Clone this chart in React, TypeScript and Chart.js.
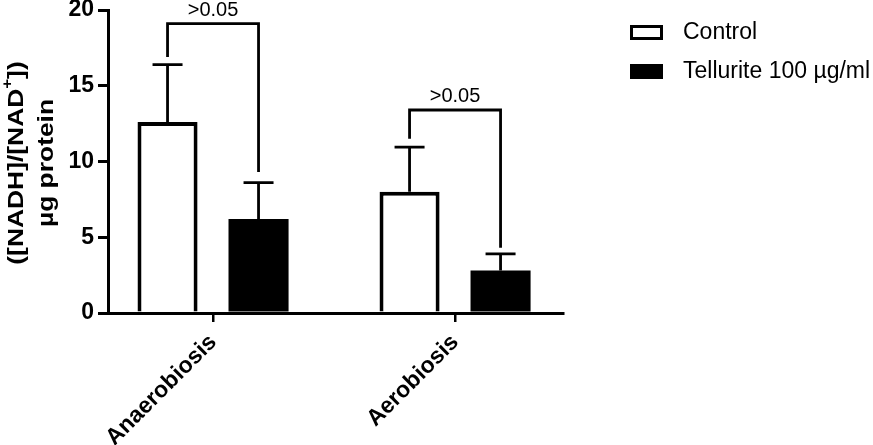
import { useEffect, useRef } from "react";
import { Chart, registerables } from "chart.js";

Chart.register(...registerables);

// ---- data ----
const categories = ["Anaerobiosis", "Aerobiosis"];
const seriesNames = ["Control", "Tellurite 100 µg/ml"];
const controlMeans = [12.6, 8.0];
const controlErrors = [3.8, 2.95];
const telluriteMeans = [6.2, 2.8];
const telluriteErrors = [2.4, 1.1];
const yTicks = [0, 5, 10, 15, 20];
const bracketTop = [19.1, 13.4];
const bracketLeftEnd = [16.9, 11.5];
const bracketRightEnd = [9.3, 4.3];
const bracketLabels = [">0.05", ">0.05"];
const yTitleLine1 = ["([NADH]/[NAD", "+", "])"];
const yTitleLine2 = "µg protein";

const FONT = "'Liberation Sans', Arial, Helvetica, sans-serif";

const overlay = {
  id: "overlay",
  afterDatasetsDraw(chart: any) {
    const ctx: CanvasRenderingContext2D = chart.ctx;
    const y = chart.scales.y;
    const means = [controlMeans, telluriteMeans];
    const errs = [controlErrors, telluriteErrors];
    const metas = [chart.getDatasetMeta(0), chart.getDatasetMeta(1)];
    ctx.save();
    ctx.strokeStyle = "#000";
    ctx.fillStyle = "#000";
    ctx.lineCap = "butt";
    ctx.lineJoin = "miter";
    // error bars (upper only)
    ctx.lineWidth = 2.8;
    for (let d = 0; d < 2; d++) {
      metas[d].data.forEach((bar: any, i: number) => {
        const x = bar.x;
        const top = y.getPixelForValue(means[d][i]);
        const cap = y.getPixelForValue(means[d][i] + errs[d][i]);
        ctx.beginPath();
        ctx.moveTo(x, top);
        ctx.lineTo(x, cap);
        ctx.moveTo(x - 15, cap);
        ctx.lineTo(x + 15, cap);
        ctx.stroke();
      });
    }
    // significance brackets
    ctx.font = `20px ${FONT}`;
    ctx.textAlign = "center";
    ctx.textBaseline = "alphabetic";
    for (let i = 0; i < categories.length; i++) {
      const xl = metas[0].data[i].x;
      const xr = metas[1].data[i].x;
      const yt = y.getPixelForValue(bracketTop[i]);
      ctx.beginPath();
      ctx.moveTo(xl, y.getPixelForValue(bracketLeftEnd[i]));
      ctx.lineTo(xl, yt);
      ctx.lineTo(xr, yt);
      ctx.lineTo(xr, y.getPixelForValue(bracketRightEnd[i]));
      ctx.stroke();
      ctx.fillText(bracketLabels[i], (xl + xr) / 2, yt - 8);
    }
    // legend
    ctx.lineWidth = 3;
    ctx.strokeRect(631.5, 26.5, 30, 12);
    ctx.fillRect(630, 64, 33, 15);
    ctx.font = `23px ${FONT}`;
    ctx.textAlign = "left";
    ctx.textBaseline = "middle";
    ctx.fillText(seriesNames[0], 683, 33);
    ctx.fillText(seriesNames[1], 683, 72);
    // y axis title
    const fMain = `bold 22px ${FONT}`;
    const fSup = `bold 14px ${FONT}`;
    ctx.save();
    ctx.translate(17, 163);
    ctx.rotate(-Math.PI / 2);
    ctx.scale(1.2, 1);
    ctx.font = fMain;
    const w1 = ctx.measureText(yTitleLine1[0]).width;
    const w3 = ctx.measureText(yTitleLine1[2]).width;
    ctx.font = fSup;
    const w2 = ctx.measureText(yTitleLine1[1]).width;
    let sx = -(w1 + w2 + w3) / 2;
    ctx.textAlign = "left";
    ctx.textBaseline = "middle";
    ctx.font = fMain;
    ctx.fillText(yTitleLine1[0], sx, 0);
    sx += w1;
    ctx.font = fSup;
    ctx.fillText(yTitleLine1[1], sx, -9);
    sx += w2;
    ctx.font = fMain;
    ctx.fillText(yTitleLine1[2], sx, 0);
    ctx.restore();
    ctx.save();
    ctx.translate(47, 163);
    ctx.rotate(-Math.PI / 2);
    ctx.scale(1.2, 1);
    ctx.font = fMain;
    ctx.textAlign = "center";
    ctx.textBaseline = "middle";
    ctx.fillText(yTitleLine2, 0, 0);
    ctx.restore();
    ctx.restore();
  },
};

export default function App() {
  const ref = useRef<HTMLCanvasElement>(null);
  useEffect(() => {
    const chart = new Chart(ref.current as HTMLCanvasElement, {
      type: "bar",
      data: {
        datasets: [
          {
            label: seriesNames[0],
            data: categories.map((_, i) => ({ x: i, y: controlMeans[i] })),
            backgroundColor: "#ffffff",
            borderColor: "#000000",
            borderWidth: 4,
            borderSkipped: "bottom",
          },
          {
            label: seriesNames[1],
            data: categories.map((_, i) => ({ x: i, y: telluriteMeans[i] })),
            backgroundColor: "#000000",
            borderColor: "#000000",
            borderWidth: 0,
          },
        ] as any,
      },
      options: {
        animation: false,
        responsive: false,
        maintainAspectRatio: false,
        datasets: { bar: { categoryPercentage: 0.752, barPercentage: 0.66 } } as any,
        layout: { padding: { left: 0, right: 310, top: 10, bottom: 0 } },
        plugins: { legend: { display: false }, tooltip: { enabled: false } },
        scales: {
          x: {
            type: "linear",
            min: -0.434,
            max: 1.446,
            offset: false,
            grid: { display: true, offset: false, drawOnChartArea: false, drawTicks: true, tickLength: 9, lineWidth: 2.5, color: "#000" },
            border: { display: true, width: 3, color: "#000" },
            ticks: {
              autoSkip: false,
              minRotation: 45,
              maxRotation: 45,
              padding: 7,
              color: "#000",
              font: { family: FONT, size: 23, weight: "bold" },
              callback: (v: any) => categories[v] ?? "",
            },
            afterBuildTicks: (s: any) => {
              s.ticks = categories.map((_, i) => ({ value: i }));
            },
            afterFit: (s: any) => {
              s.height = 132;
              s.paddingLeft = 0;
              s.paddingRight = 0;
            },
          },
          y: {
            type: "linear",
            min: 0,
            max: 20,
            grid: { display: true, drawOnChartArea: false, drawTicks: true, tickLength: 10, lineWidth: 3, color: "#000" },
            border: { display: true, width: 3, color: "#000" },
            ticks: {
              padding: 4,
              color: "#000",
              font: { family: FONT, size: 23, weight: "bold" },
            },
            afterBuildTicks: (s: any) => {
              s.ticks = yTicks.map((v) => ({ value: v }));
            },
            afterFit: (s: any) => {
              s.width = 108;
              s.paddingTop = 0;
              s.paddingBottom = 0;
            },
          },
        } as any,
      },
      plugins: [overlay],
    });
    return () => chart.destroy();
  }, []);
  return (
    <div style={{ position: "fixed", left: 0, top: 0, width: 873, height: 445, background: "#fff" }}>
      <canvas ref={ref} width={873} height={445} style={{ display: "block", width: 873, height: 445 }} />
    </div>
  );
}
